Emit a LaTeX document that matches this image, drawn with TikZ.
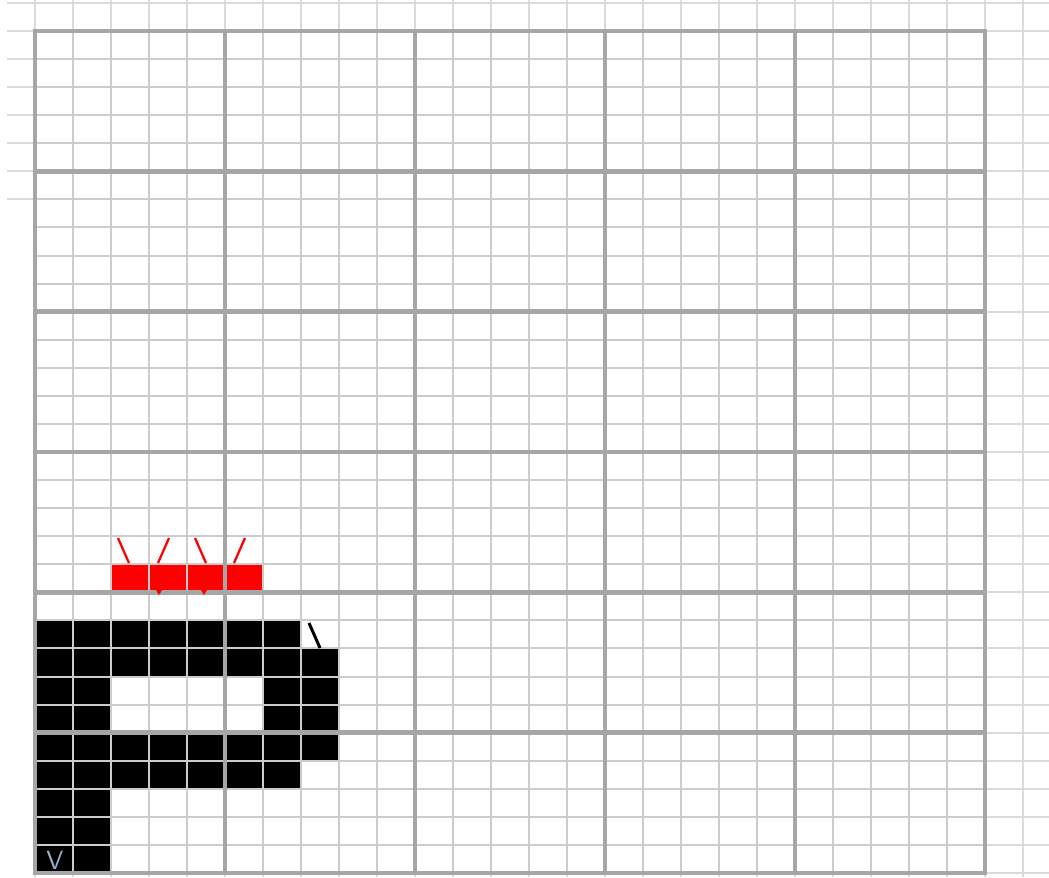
\documentclass[tikz,border=0pt]{standalone}
\definecolor{lightline}{HTML}{DADADA}
\definecolor{innerline}{HTML}{CCCCCC}
\definecolor{majorline}{HTML}{A6A6A6}
\definecolor{vcolor}{HTML}{9AAEC6}
\tikzset{
  outergrid/.style={draw=lightline, line width=0.04cm},
  minorgrid/.style={draw=innerline, line width=0.04cm},
  majorgrid/.style={draw=majorline, line width=0.09cm, line cap=rect},
  spark/.style={draw=red, line width=0.045cm},
}
\begin{document}
\begin{tikzpicture}[x=0.02cm,y=-0.02cm]
\useasboundingbox (0,0) rectangle (1049,877);
% black cells (column, row) with rows counted from y=593
\foreach \c/\r in {0/1,1/1,2/1,3/1,4/1,5/1,6/1,
                   0/2,1/2,2/2,3/2,4/2,5/2,6/2,7/2,
                   0/3,1/3,6/3,7/3,
                   0/4,1/4,6/4,7/4,
                   0/5,1/5,2/5,3/5,4/5,5/5,6/5,7/5,
                   0/6,1/6,2/6,3/6,4/6,5/6,6/6,
                   0/7,1/7,0/8,1/8,0/9,1/9}
  \fill[black] ({35+38*\c},{593+28.0667*\r}) rectangle ++(38,28.0667);
% red cells
\foreach \c in {2,3,4,5}
  \fill[red] ({35+38*\c},{593-28.0667}) rectangle ++(38,28.0667);
% outer light grid
\foreach \k in {0,...,7}
  \draw[outergrid] (7,{2.93+28.0667*\k}) -- (1049,{2.93+28.0667*\k});
\foreach \k in {8,...,31}
  \draw[outergrid] (35,{2.93+28.0667*\k}) -- (1049,{2.93+28.0667*\k});
\foreach \k in {0,...,26}
  \draw[outergrid] ({35+38*\k},0) -- ({35+38*\k},877);
% inner minor grid
\foreach \k in {1,...,29}
  \draw[minorgrid] (35,{31+28.0667*\k}) -- (985,{31+28.0667*\k});
\foreach \k in {1,...,24}
  \draw[minorgrid] ({35+38*\k},31) -- ({35+38*\k},873);
% major grid
\foreach \i in {0,...,5}
  \draw[majorgrid] ({35+190*\i},31) -- ({35+190*\i},873);
\foreach \j in {0,...,6}
  \draw[majorgrid] (35,{31+140.333*\j}) -- (985,{31+140.333*\j});
% red sparks
\draw[spark] (118,538) -- (129,563);
\draw[spark] (169,538) -- (158,563);
\draw[spark] (195,538) -- (206,563);
\draw[spark] (245,538) -- (234,563);
\fill[red] (156,590) -- (162,590) -- (159,595) -- cycle;
\fill[red] (201,590) -- (207,590) -- (204,595) -- cycle;
% black slash
\draw[black, line width=0.06cm] (309,623) -- (320,648);
% V label
\node[text=vcolor, font=\sffamily\fontsize{15}{15}\selectfont, inner sep=0pt] (vlabel) at (55,860) {V};
\end{tikzpicture}
\end{document}
